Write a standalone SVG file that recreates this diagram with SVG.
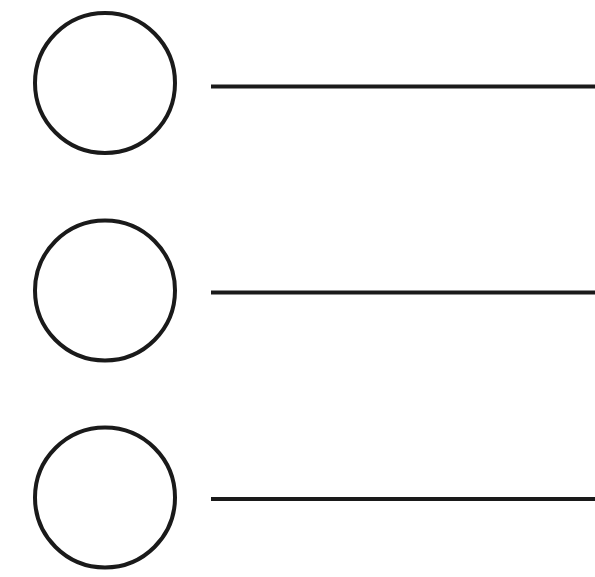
<svg xmlns="http://www.w3.org/2000/svg" width="595" height="577" viewBox="0 0 595 577">
<style>
.node{fill:#fff;stroke:#1a1a1a;stroke-width:4}
.conn{stroke:#1a1a1a;stroke-width:4;fill:none}
</style>
<rect width="595" height="577" fill="#fff"/>
<g id="node1"><circle class="node" cx="105" cy="83" r="70"/></g>
<g id="node2"><circle class="node" cx="105" cy="290.5" r="70"/></g>
<g id="node3"><circle class="node" cx="105" cy="497.5" r="70"/></g>
<g id="connectors">
<line class="conn" x1="211" y1="86.5" x2="595" y2="86.5"/>
<line class="conn" x1="211" y1="292.5" x2="595" y2="292.5"/>
<line class="conn" x1="211" y1="499" x2="595" y2="499"/>
</g>
</svg>
